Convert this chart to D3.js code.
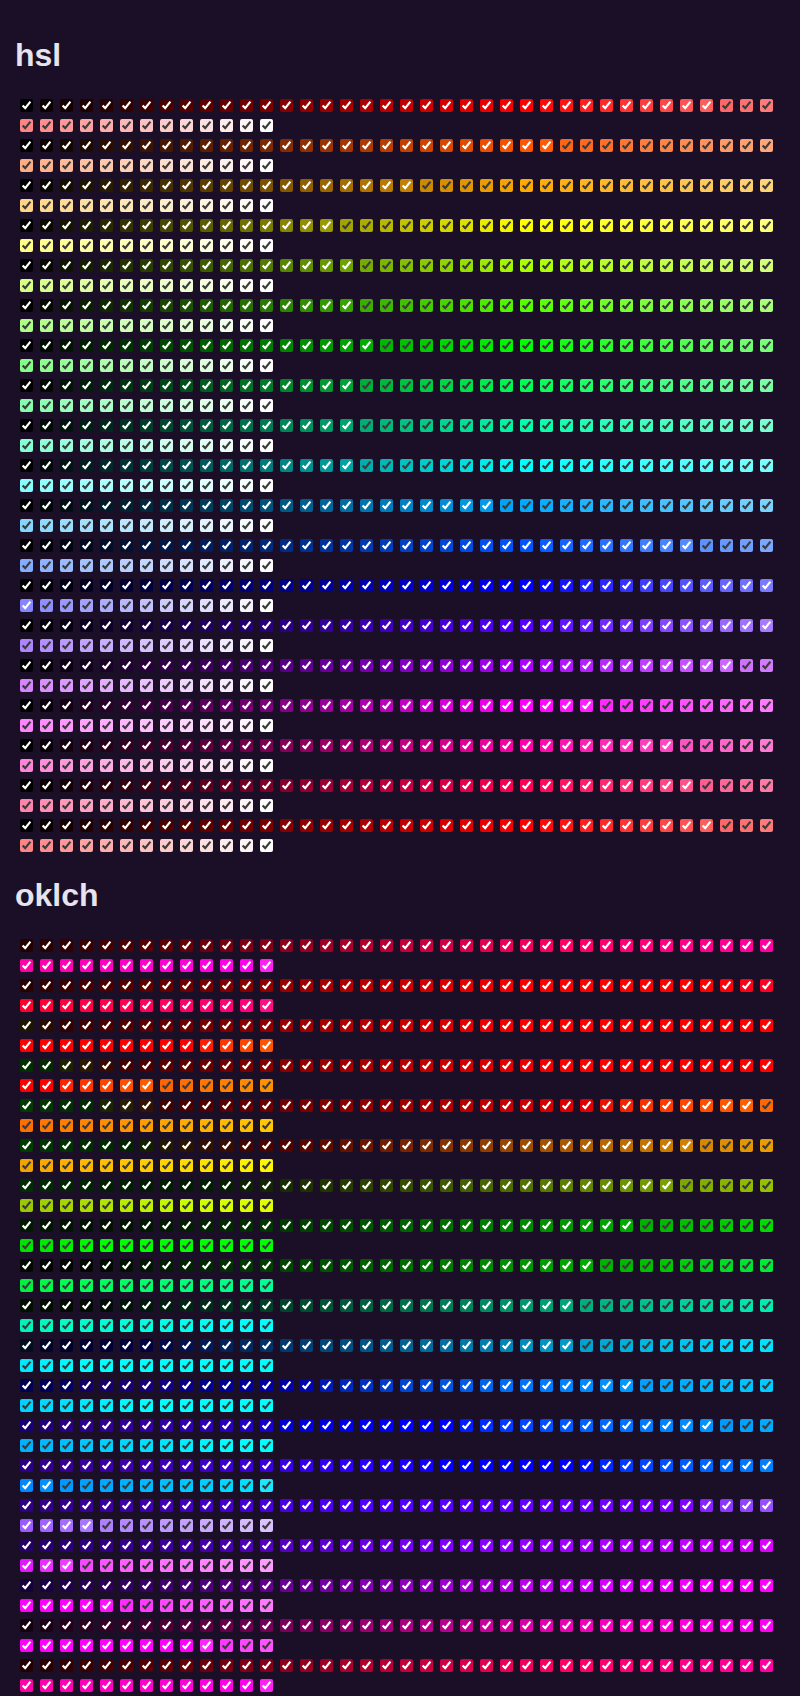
<!DOCTYPE html>
<html>
<head>
<meta charset="utf-8">
<script src="https://cdn.jsdelivr.net/npm/d3@7"></script>
<style>
  html, body { margin: 0; padding: 0; background: #1b0e27; }
  svg { display: block; }
</style>
</head>
<body>
<div id="chart"></div>
<script>
// ---- data ----
const sections = ["hsl", "oklch"];
const hues = [0, 20, 40, 60, 80, 100, 120, 140, 160, 180, 200, 220, 240, 260, 280, 300, 320, 340, 360];
const lightness = [0, 2, 4, 6, 8, 10, 12, 14, 16, 18, 20, 22, 24, 26, 28, 30, 32, 34, 36, 38, 40,
  42, 44, 46, 48, 50, 52, 54, 56, 58, 60, 62, 64, 66, 68, 70, 72, 74, 76, 78, 80,
  82, 84, 86, 88, 90, 92, 94, 96, 98, 100];
const hslSaturation = 1;      // 100%
const oklchChroma = 0.4;      // 100%

// ---- colour helpers ----
function toByte(v) { return Math.round(Math.max(0, Math.min(1, v)) * 255); }
function gammaEncode(c) {
  if (c <= 0) return 0;
  return c <= 0.0031308 ? 12.92 * c : 1.055 * Math.pow(c, 1 / 2.4) - 0.055;
}
function oklchToRgb(L, C, h) {
  const hr = h * Math.PI / 180;
  const a = C * Math.cos(hr), b = C * Math.sin(hr);
  const l_ = L + 0.3963377774 * a + 0.2158037573 * b;
  const m_ = L - 0.1055613458 * a - 0.0638541728 * b;
  const s_ = L - 0.0894841775 * a - 1.2914855480 * b;
  const l = l_ * l_ * l_, m = m_ * m_ * m_, s = s_ * s_ * s_;
  const r = 4.0767416621 * l - 3.3077115913 * m + 0.2309699292 * s;
  const g = -1.2684380046 * l + 2.6097574011 * m - 0.3413193965 * s;
  const bl = -0.0041960863 * l - 0.7034186147 * m + 1.7076147010 * s;
  return d3.rgb(toByte(gammaEncode(r)), toByte(gammaEncode(g)), toByte(gammaEncode(bl)));
}
function hslToRgb(h, s, l) {
  const c = d3.hsl(h % 360, s, l).rgb();
  return d3.rgb(Math.round(c.r), Math.round(c.g), Math.round(c.b));
}
function luminance(c) {
  const f = v => { v /= 255; return v <= 0.04045 ? v / 12.92 : Math.pow((v + 0.055) / 1.055, 2.4); };
  return 0.2126 * f(c.r) + 0.7152 * f(c.g) + 0.0722 * f(c.b);
}
function checkColor(c) {
  const ratio = 1.05 / (luminance(c) + 0.05);
  return ratio >= 3 ? "#ffffff" : "#3c3c3c";
}

// ---- layout ----
const W = 800, H = 1696;
const perLine = 38;
const box = 13;
const sectionTop = { hsl: 99, oklch: 939 };
const titleBaseline = { hsl: 66, oklch: 906 };

const xCol = d3.scaleLinear().domain([0, 1]).range([20, 40]);      // column index -> x
const yLine = d3.scaleLinear().domain([0, 1]).range([0, 20]);      // wrapped line -> y offset
const yHue = d3.scaleLinear().domain([0, 1]).range([0, 40]);       // hue row -> y offset

const svg = d3.select("#chart").append("svg")
  .attr("width", W).attr("height", H)
  .style("background", "#1b0e27");

svg.append("rect").attr("width", W).attr("height", H).attr("fill", "#1b0e27");

sections.forEach(sec => {
  svg.append("text")
    .attr("x", 15)
    .attr("y", titleBaseline[sec])
    .attr("fill", "#e6e4ee")
    .style("font-family", "'Liberation Sans', Arial, sans-serif")
    .style("font-weight", "bold")
    .style("font-size", "32px")
    .text(sec);

  const cells = [];
  hues.forEach((h, hi) => {
    lightness.forEach((L, li) => {
      const col = li % perLine;
      const line = Math.floor(li / perLine);
      const c = sec === "hsl" ? hslToRgb(h, hslSaturation, L / 100) : oklchToRgb(L / 100, oklchChroma, h);
      cells.push({
        x: xCol(col),
        y: sectionTop[sec] + yHue(hi) + yLine(line),
        fill: c.formatHex(),
        check: checkColor(c)
      });
    });
  });

  const g = svg.append("g").attr("class", "sec-" + sec);
  const cb = g.selectAll("g.cb").data(cells).join("g")
    .attr("class", "cb")
    .attr("transform", d => `translate(${d.x},${d.y})`);
  cb.append("rect")
    .attr("width", box).attr("height", box)
    .attr("rx", 2).attr("ry", 2)
    .attr("fill", d => d.fill);
  cb.append("path")
    .attr("d", `M${box * 0.2},${box * 0.5} l${box * 0.2},${box * 0.2} L${box - box * 0.2},${box * 0.2}`)
    .attr("fill", "none")
    .attr("stroke", d => d.check)
    .attr("stroke-width", box * 0.17);
});
</script>
</body>
</html>
